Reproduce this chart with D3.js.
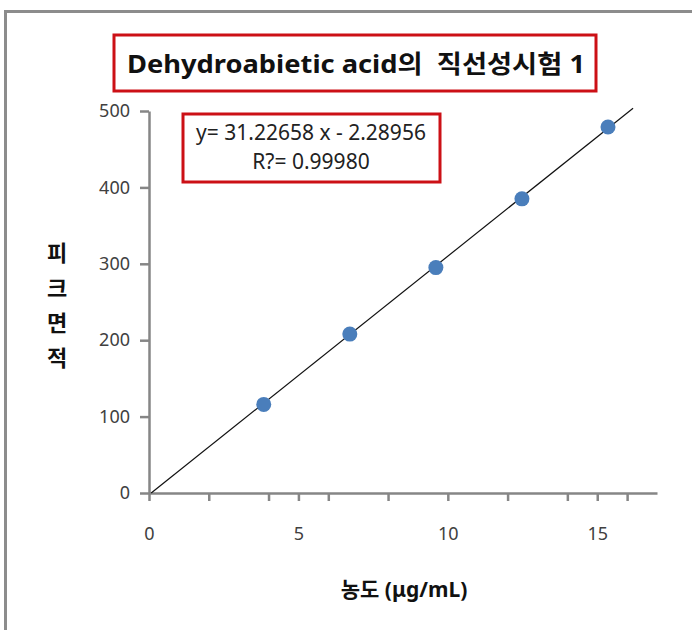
<!DOCTYPE html>
<html>
<head>
<meta charset="utf-8">
<script src="https://cdn.jsdelivr.net/npm/d3@7"></script>
<style>
  body { margin: 0; background: #fff; }
  text { font-family: "Noto Sans", "Noto Sans CJK KR", sans-serif; white-space: pre; }
</style>
</head>
<body>
<script>
// concentration (ug/mL) and peak area
const concentration = [3.84, 6.72, 9.6, 12.48, 15.36];
const peakArea = [116, 208, 295, 385, 479];

// trend line from the equation shown on the chart
const slope = 31.22658, intercept = -2.28956;
const fitRange = [0.073, 16.2];

const xTicks = [0, 2, 4, 5, 6, 8, 10, 12, 14, 15, 16];
const xLabels = [0, 5, 10, 15];
const yTicks = [0, 100, 200, 300, 400, 500];

const titleText = "Dehydroabietic acid의  직선성시험 1";
const eqLines = ["y= 31.22658 x - 2.28956", "R?= 0.99980"];
const yTitle = ["피", "크", "면", "적"];
const xTitle = "농도 (μg/mL)";

const W = 692, H = 630;
const svg = d3.select("body").append("svg")
    .attr("width", W)
    .attr("height", H);

// outer chart frame (only top and left edges show)
svg.append("path")
    .attr("d", "M5.5,630 V11.5 H692")
    .attr("fill", "none")
    .attr("stroke", "#8c8c8c")
    .attr("stroke-width", 3);

const x = d3.scaleLinear().domain([0, 17]).range([149, 657]);
const y = d3.scaleLinear().domain([0, 500]).range([493, 111]);

const axisColor = "#868686";

// x axis
const xAxis = svg.append("g")
    .attr("transform", "translate(0,493)")
    .call(d3.axisBottom(x).tickValues(xTicks).tickSize(8).tickSizeOuter(0)
        .tickFormat(d => xLabels.includes(d) ? d : ""));
xAxis.select(".domain").attr("stroke", axisColor).attr("stroke-width", 2.5);
xAxis.selectAll(".tick line").attr("stroke", axisColor).attr("stroke-width", 2.5);
xAxis.selectAll(".tick text")
    .attr("y", 34)
    .attr("fill", "#404040")
    .style("font-size", "18px");

// y axis
const yAxis = svg.append("g")
    .attr("transform", "translate(149,0)")
    .call(d3.axisLeft(y).tickValues(yTicks).tickSize(9).tickSizeOuter(0));
yAxis.select(".domain").attr("stroke", axisColor).attr("stroke-width", 2.5);
yAxis.selectAll(".tick line").attr("stroke", axisColor).attr("stroke-width", 2.5);
yAxis.selectAll(".tick text")
    .attr("x", -19)
    .attr("fill", "#404040")
    .style("font-size", "18px");

// regression line
svg.append("line")
    .attr("x1", x(fitRange[0]))
    .attr("y1", y(slope * fitRange[0] + intercept))
    .attr("x2", x(fitRange[1]))
    .attr("y2", y(slope * fitRange[1] + intercept))
    .attr("stroke", "#111")
    .attr("stroke-width", 1.2);

// data points
svg.selectAll("circle.dot")
    .data(concentration)
    .enter()
    .append("circle")
    .attr("class", "dot")
    .attr("cx", d => x(d))
    .attr("cy", (d, i) => y(peakArea[i]))
    .attr("r", 7.5)
    .attr("fill", "#4a7ebb");

// title box
svg.append("rect")
    .attr("x", 114).attr("y", 35)
    .attr("width", 482).attr("height", 56)
    .attr("fill", "#fff")
    .attr("stroke", "#cc1016")
    .attr("stroke-width", 3);
svg.append("text")
    .attr("x", 356).attr("y", 73)
    .attr("text-anchor", "middle")
    .attr("textLength", 458)
    .attr("lengthAdjust", "spacingAndGlyphs")
    .style("font-size", "25px")
    .style("font-weight", "bold")
    .attr("fill", "#111")
    .text(titleText);

// equation box
svg.append("rect")
    .attr("x", 183).attr("y", 114)
    .attr("width", 257).attr("height", 68)
    .attr("fill", "#fff")
    .attr("stroke", "#cc1016")
    .attr("stroke-width", 3);
svg.selectAll("text.eq")
    .data(eqLines)
    .enter()
    .append("text")
    .attr("class", "eq")
    .attr("x", 311)
    .attr("y", (d, i) => 140 + i * 29)
    .attr("text-anchor", "middle")
    .style("font-size", "21px")
    .attr("fill", "#222")
    .text(d => d);

// y axis title, one character per row
svg.selectAll("text.ytitle")
    .data(yTitle)
    .enter()
    .append("text")
    .attr("class", "ytitle")
    .attr("x", 57)
    .attr("y", (d, i) => 261 + i * 35)
    .attr("text-anchor", "middle")
    .style("font-size", "22px")
    .style("font-weight", "bold")
    .attr("fill", "#111")
    .text(d => d);

// x axis title
svg.append("text")
    .attr("x", 404).attr("y", 597)
    .attr("text-anchor", "middle")
    .style("font-size", "21px")
    .style("font-weight", "bold")
    .attr("fill", "#111")
    .text(xTitle);
</script>
</body>
</html>
